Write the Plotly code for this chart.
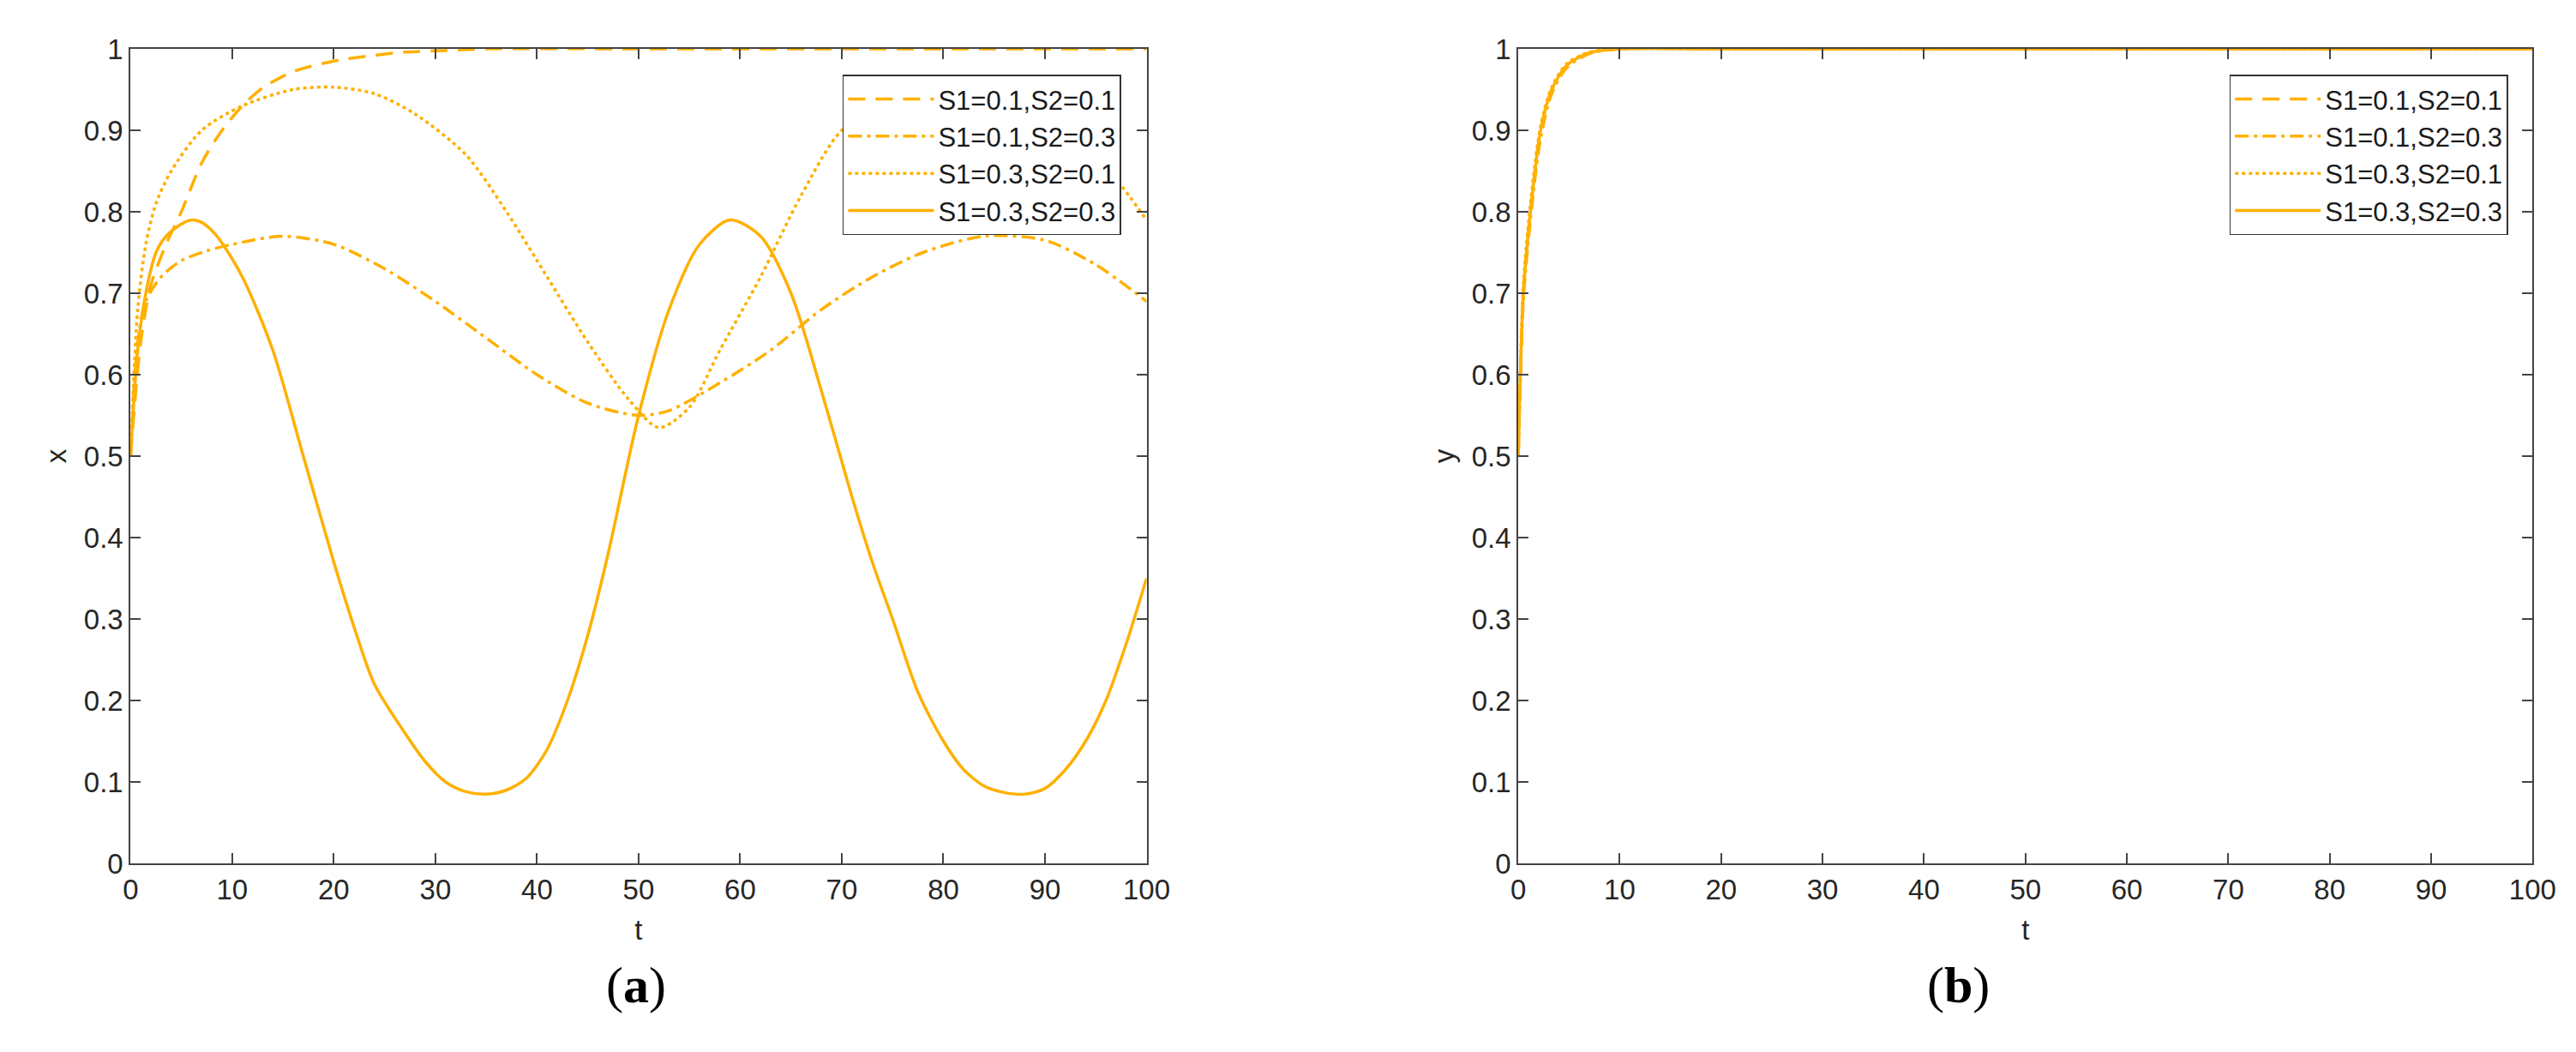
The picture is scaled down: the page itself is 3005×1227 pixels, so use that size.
import plotly.graph_objects as go

names = ["S1=0.1,S2=0.1", "S1=0.1,S2=0.3", "S1=0.3,S2=0.1", "S1=0.3,S2=0.3"]

# Panel (a): x over t
t_a1 = [0, 1, 2, 3.5, 5, 7, 9, 11, 13, 16, 20, 24, 27, 31, 35, 50, 70, 100]
x_a1 = [0.5, 0.64, 0.71, 0.76, 0.8, 0.86, 0.9, 0.93, 0.952, 0.972, 0.985, 0.992, 0.996, 0.998, 1.0, 1.0, 1.0, 1.0]

t_a2 = [0, 0.7, 1.5, 3, 5, 7.5, 10, 15, 20, 25, 30, 35, 40, 45, 50, 53, 58, 63, 68, 73, 78, 84, 90, 95, 100]
x_a2 = [0.5, 0.64, 0.69, 0.72, 0.74, 0.752, 0.76, 0.77, 0.76, 0.73, 0.69, 0.645, 0.6, 0.565, 0.55, 0.556, 0.59, 0.63, 0.68, 0.72, 0.75, 0.77, 0.765, 0.735, 0.69]

t_a3 = [0, 0.7, 1.5, 2.5, 4, 7, 11, 16, 20, 24, 28, 33, 37, 41, 45, 49, 52, 55, 58, 62, 66, 70, 76, 82, 86, 90, 94, 97, 100]
x_a3 = [0.5, 0.68, 0.76, 0.81, 0.85, 0.9, 0.93, 0.95, 0.953, 0.945, 0.92, 0.87, 0.8, 0.72, 0.64, 0.57, 0.535, 0.56, 0.63, 0.72, 0.82, 0.9, 0.945, 0.953, 0.945, 0.925, 0.88, 0.84, 0.79]

t_a4 = [0, 0.7, 1.5, 2.5, 3.5, 5, 6, 7, 8.5, 11, 14, 17, 20, 22, 24, 27, 29, 31, 33, 35, 37, 39, 41, 43, 45, 47, 50, 53, 56, 59, 62, 65, 68, 71, 73, 75, 77.5, 80, 82, 84, 86, 88, 90, 92, 94, 96, 98, 100]
x_a4 = [0.5, 0.63, 0.7, 0.75, 0.77, 0.785, 0.79, 0.787, 0.77, 0.72, 0.63, 0.5, 0.37, 0.29, 0.22, 0.16, 0.125, 0.1, 0.088, 0.085, 0.09, 0.105, 0.14, 0.2, 0.28, 0.38, 0.55, 0.68, 0.76, 0.79, 0.77, 0.7, 0.58, 0.45, 0.37, 0.3, 0.21, 0.15, 0.115, 0.095, 0.087, 0.085, 0.092, 0.115, 0.15, 0.2, 0.27, 0.35]

# Panel (b): y over t
t_b = [0, 0.5, 1.2, 2.2, 3.3, 4.8, 7, 10, 20, 40, 60, 80, 100]
y_b1 = [0.5, 0.7, 0.8, 0.9, 0.95, 0.98, 0.995, 1.0, 1.0, 1.0, 1.0, 1.0, 1.0]
y_b2 = [0.5, 0.69, 0.79, 0.89, 0.945, 0.977, 0.994, 1.0, 1.0, 1.0, 1.0, 1.0, 1.0]
y_b3 = [0.5, 0.71, 0.81, 0.905, 0.953, 0.982, 0.996, 1.0, 1.0, 1.0, 1.0, 1.0, 1.0]
y_b4 = [0.5, 0.7, 0.8, 0.9, 0.95, 0.98, 0.995, 1.0, 1.0, 1.0, 1.0, 1.0, 1.0]

color = "#FFB000"
dashes = ["20px,12px", "16px,6px,4px,6px", "4px,4px", "solid"]

fig = go.Figure()
series_a = [(t_a1, x_a1), (t_a2, x_a2), (t_a3, x_a3), (t_a4, x_a4)]
series_b = [(t_b, y_b1), (t_b, y_b2), (t_b, y_b3), (t_b, y_b4)]
for i, (tt, vv) in enumerate(series_a):
    fig.add_trace(go.Scatter(x=tt, y=vv, mode="lines", name=names[i],
                             line=dict(color=color, width=3.5, dash=dashes[i], shape="spline", smoothing=0.8),
                             xaxis="x", yaxis="y", legend="legend"))
for i, (tt, vv) in enumerate(series_b):
    fig.add_trace(go.Scatter(x=tt, y=vv, mode="lines", name=names[i],
                             line=dict(color=color, width=3.5, dash=dashes[i], shape="spline", smoothing=0.8),
                             xaxis="x2", yaxis="y2", legend="legend2"))

W, H = 3005, 1227
axfont = dict(family="Liberation Sans, Arial", size=33, color="#262626")
common = dict(showgrid=False, zeroline=False, showline=True, linecolor="#444", linewidth=2,
              mirror="ticks", ticks="inside", ticklen=12, tickwidth=2, tickcolor="#444",
              tickfont=axfont)
xticks = dict(range=[0, 100], tickvals=list(range(0, 101, 10)))
yticks = dict(range=[0, 1], tickvals=[i / 10 for i in range(11)],
              ticktext=["0", "0.1", "0.2", "0.3", "0.4", "0.5", "0.6", "0.7", "0.8", "0.9", "1"])

legstyle = dict(bgcolor="white", bordercolor="#333", borderwidth=1.5,
                font=dict(family="Liberation Sans, Arial", size=31, color="#1a1a1a"),
                xanchor="right", yanchor="top", y=0.968, tracegroupgap=0, itemwidth=100)

fig.update_layout(
    width=W, height=H, plot_bgcolor="white", paper_bgcolor="white",
    margin=dict(l=0, r=0, t=49, b=228),
    xaxis=dict(domain=[137 / W, 1337 / W], title=dict(text="t", font=axfont, standoff=18), **xticks, **common),
    yaxis=dict(domain=[0, 1], title=dict(text="x", font=axfont, standoff=10), **yticks, **common),
    xaxis2=dict(domain=[1776 / W, 2974 / W], anchor="y2", title=dict(text="t", font=axfont, standoff=18), **xticks, **common),
    yaxis2=dict(domain=[0, 1], anchor="x2", title=dict(text="y", font=axfont, standoff=10), **yticks, **common),
    legend=dict(x=1307 / W, **legstyle),
    legend2=dict(x=2945 / W, **legstyle),
    annotations=[
        dict(text="(<b>a</b>)", x=697 / W, y=-177 / 950, xref="paper", yref="paper", showarrow=False,
             font=dict(family="Liberation Serif, Times New Roman", size=60, color="black")),
        dict(text="(<b>b</b>)", x=2335 / W, y=-177 / 950, xref="paper", yref="paper", showarrow=False,
             font=dict(family="Liberation Serif, Times New Roman", size=60, color="black")),
    ],
)
fig.write_html("out.html")
